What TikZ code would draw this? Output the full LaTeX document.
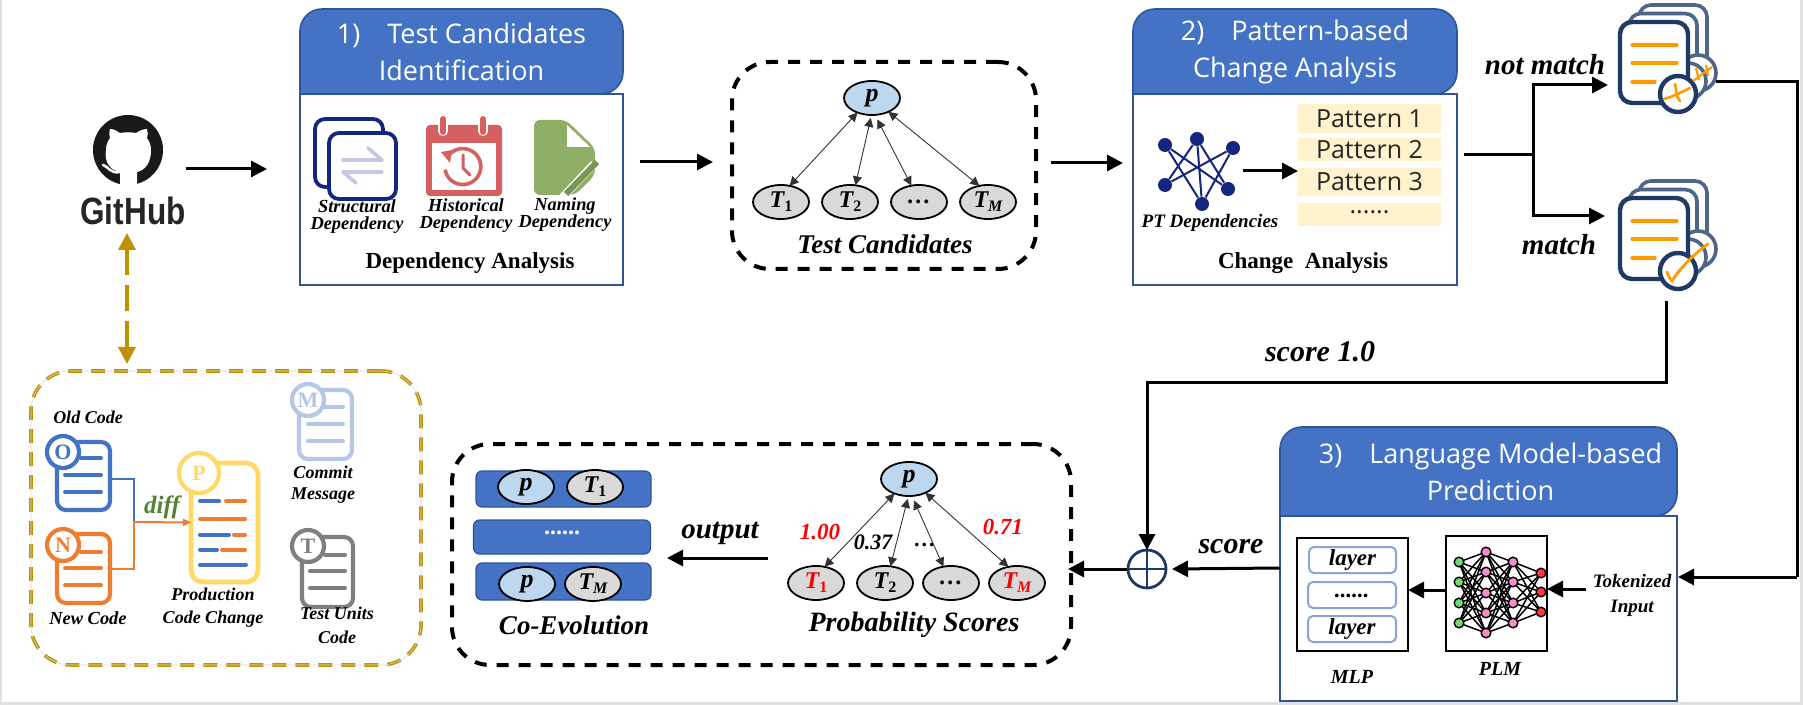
\documentclass[tikz,border=0pt]{standalone}
\usepackage{fontspec}
\setmainfont{Liberation Serif}
\newfontfamily\ttl{Open Sans}
\newfontfamily\ghf{Liberation Sans}
\usetikzlibrary{arrows.meta,shapes.geometric,fit,calc}
\definecolor{hblue}{HTML}{4472C4}
\definecolor{hedge}{HTML}{2F5597}
\definecolor{navy}{HTML}{1F3864}
\definecolor{backnavy}{HTML}{4F6587}
\definecolor{gold}{HTML}{BF9000}
\definecolor{dorange}{HTML}{ED7D31}
\definecolor{dyellow}{HTML}{FFD966}
\definecolor{dlight}{HTML}{B4C7E7}
\definecolor{dgrey}{HTML}{7F7F7F}
\definecolor{pbg}{HTML}{FFF2CC}
\definecolor{pnode}{HTML}{BDD7EE}
\definecolor{tnode}{HTML}{D9D9D9}
\definecolor{iconblue}{HTML}{14267E}
\definecolor{iconarrow}{HTML}{C3C8E0}
\definecolor{calred}{HTML}{D66060}
\definecolor{dgreen}{HTML}{8FAF66}
\definecolor{diffg}{HTML}{548235}
\definecolor{docor}{HTML}{FF9900}
\tikzset{
 sz/.style 2 args={minimum width=#1*0.5pt,minimum height=#2*0.5pt,inner sep=0pt,outer sep=0pt},
 arr/.style={line width=1.5pt,-{Triangle[length=8pt,width=8pt]}},
 plainline/.style={line width=1.5pt},
 thinarr/.style={line width=.45pt,black!80,{Triangle[length=4.5pt,width=4.5pt]}-{Triangle[length=4.5pt,width=4.5pt]}},
 graphn/.style={ellipse,draw=black,line width=.9pt,minimum width=28pt,minimum height=17pt,inner sep=0pt,outer sep=0pt},
 pn/.style={graphn,fill=pnode},
 tn/.style={graphn,fill=tnode},
 lab/.style={font=\fontsize{9.2pt}{8.8pt}\selectfont\bfseries\itshape,align=center,inner sep=0pt},
 biglab/.style={font=\fontsize{14.5pt}{15pt}\selectfont\bfseries\itshape,inner sep=0pt},
 grouplab/.style={font=\fontsize{13.5pt}{14pt}\selectfont\bfseries\itshape,inner sep=0pt},
 hdr/.style={font=\fontsize{13.5pt}{18.5pt}\selectfont\ttl,text=white,align=center,inner sep=0pt},
 patbox/.style={fill=pbg,font=\fontsize{12.5pt}{12.5pt}\selectfont\ttl,text=black!85},
 blackdash/.style={draw=black,line width=2pt,dash pattern=on 6pt off 5pt,rounded corners=19pt},
 golddash/.style={draw=gold,line width=1.8pt,dash pattern=on 7pt off 4.5pt,rounded corners=20pt},
 doc/.style={draw=#1,line width=2.1pt,rounded corners=4.5pt,fill=white},
 docc/.style={circle,draw=#1,line width=2.1pt,fill=white,text=#1,inner sep=0pt,font=\fontsize{11pt}{11pt}\selectfont\bfseries},
 bar/.style={line width=2pt,line cap=round},
 rowbar/.style={fill=hblue,draw=hedge,line width=.6pt,rounded corners=3pt},
 layerbox/.style={draw=#1,line width=1pt,rounded corners=2.5pt,fill=white},
 layertxt/.style={font=\fontsize{11.5pt}{11.5pt}\selectfont\bfseries\itshape},
 frontdoc/.style={draw=navy,line width=2.2pt,rounded corners=6pt,fill=white},
 backdoc/.style={draw=backnavy,line width=1.8pt,rounded corners=6pt,fill=white},
 nn/.style={circle,draw=black,line width=.7pt,minimum size=4.8pt,inner sep=0pt,fill=#1},
}
\newcommand{\tsym}[2]{\bfseries\itshape #1\raisebox{-.35ex}{\fontsize{8pt}{8pt}\selectfont\upshape #2}}
\newcommand{\stagebox}[7]{% name,x1,y1,ymid,x2,y2,title
 \draw[hedge,line width=1pt,fill=white] (#2,#4) rectangle (#5,#6);
 \path[fill=hblue,draw=hedge,line width=.8pt] (#2,#4) [rounded corners=11pt] -- (#2,#3) -- (#5,#3) -- (#5,#4) [sharp corners] -- cycle;
 \node[inner sep=0pt,outer sep=0pt,fit={(#2,#3)(#5,#6)}] (#1) {};
 \node[hdr] (#1-title) at ($(#2,#3)!.5!(#5,#4)$) {#7};
}
\newcommand{\srcdoc}[8]{% name,color,cx,cy,w,h,letter,circle at
 \node[doc=#2,sz={#5}{#6}] (#1) at (#3,#4) {};
 \node[docc=#2,minimum size=16pt] (#1-c) at (#8) {#7};
}
\newcommand{\frontstack}[1]{% vertical offset of the stack
 \begin{scope}[shift={(0,#1)}]
  \node[backdoc,sz={68}{81}] at (1673,45.5) {};
  \node[backdoc,sz={68}{81}] at (1663,54) {};
  \node[circle,draw=backnavy,line width=1.8pt,fill=white,minimum size=18pt,inner sep=0pt] at (1698,73) {};
  \node[circle,draw=backnavy,line width=1.8pt,fill=white,minimum size=18pt,inner sep=0pt] at (1688,81) {};
  \node[frontdoc,sz={68}{81}] at (1654,62.5) {};
  \draw[docor,bar,line width=1.6pt] (1632,45) -- (1677,45) (1632,63) -- (1677,63) (1632,82) -- (1655,82);
 \end{scope}
}
\begin{document}
\begin{tikzpicture}[x=.5pt,y=-.5pt]
\useasboundingbox (0,0) rectangle (1803,705);
\fill[black!12] (0,0) rectangle (1803,705);
\fill[white] (2,0) rectangle (1800,702);

% GitHub
\fill[black!90] (128,150) circle[radius=35];
\fill[white] (120,186) -- (120,172) .. controls (110,170) and (104,162) .. (106,150) .. controls (106,144) and (108,141) .. (110,138) .. controls (109,134) and (109,131) .. (110,129) .. controls (114,129) and (117,131) .. (120,133) .. controls (125,132) and (131,132) .. (136,133) .. controls (139,131) and (143,129) .. (147,129) .. controls (148,132) and (148,135) .. (147,138) .. controls (150,142) and (151,146) .. (151,150) .. controls (151,162) and (146,170) .. (137,172) -- (137,186) -- cycle;
\draw[white,line width=1.3pt,line cap=round] (103,165) .. controls (108,166) and (110,174) .. (120,172);
\node[inner sep=0pt,text=black!85] (gh) at (133,211) {\fontsize{19pt}{19pt}\selectfont\ghf\bfseries\scalebox{.83}[1]{GitHub}};

% Stage 1
\stagebox{bone}{300}{9}{94}{623}{285}{1)\hspace{1em}Test Candidates\\Identification}
\draw[iconblue,line width=1.9pt,rounded corners=5pt,fill=white] (315,119) rectangle (383,187);
\draw[iconblue,line width=1.9pt,rounded corners=5pt,fill=white] (329,133) rectangle (396,199);
\draw[iconarrow,line width=1.8pt,line cap=round,line join=round] (343,160) -- (382,160) -- (368,148) (382,172) -- (343,172) -- (356,183);
% calendar
\fill[calred,rounded corners=2pt] (426,125) rectangle (502,196);
\fill[white] (432,143) rectangle (496,190);
\draw[white,line width=5pt,line cap=round] (443,122) -- (443,131) (483,122) -- (483,131);
\draw[calred,line width=3pt,line cap=round] (443,119) -- (443,132) (483,119) -- (483,132);
\draw[calred,line width=1.8pt] (449,155) arc[start angle=-140,end angle=170,radius=18];
\fill[calred] (441,152) -- (452,150) -- (450,163) -- cycle;
\draw[calred,line width=1.5pt,line cap=round] (463,155) -- (463,168) -- (470,175);
% naming icon
\fill[dgreen,rounded corners=3pt] (534,120) -- (566,120) -- (595,148) -- (595,175) -- (575,195) -- (534,195) -- cycle;
\fill[white] (567,125) -- (567,147) -- (590,147) -- cycle;
\draw[white,line width=4pt] (562,198) -- (594,164);
\draw[dgreen!85!black,line width=3pt] (566,194) -- (597,162);
\node[lab] (l1) at (357,216.5) {Structural\\Dependency};
\node[lab] (l2) at (466,215.5) {Historical\\Dependency};
\node[lab] (l3) at (565,214.5) {Naming\\Dependency};
\node[inner sep=0pt,font=\fontsize{11.5pt}{12pt}\selectfont\bfseries] (l4) at (470,263) {Dependency Analysis};

% Test candidates
\node[blackdash,sz={304}{207}] (cand) at (884,165.5) {};
\node[pn] (p) at (872,98) {\fontsize{13pt}{13pt}\selectfont\bfseries\itshape p};
\node[tn] (t1) at (781,202) {\fontsize{12pt}{12pt}\selectfont\tsym{T}{1}};
\node[tn] (t2) at (850,202) {\fontsize{12pt}{12pt}\selectfont\tsym{T}{2}};
\node[tn] (t3) at (919,202) {\fontsize{12pt}{12pt}\selectfont\bfseries\itshape …};
\node[tn] (t4) at (988,202) {\fontsize{12pt}{12pt}\selectfont\tsym{T}{\itshape M}};
\draw[thinarr] (p.-135) -- (t1.62);
\draw[thinarr,shorten <=1.5pt] (p.-92) -- (t2.72);
\draw[thinarr,shorten <=2.5pt] (p.-80) -- (t3.115);
\draw[thinarr] (p.-40) -- (t4.118);
\node[grouplab] (candl) at (885,244) {Test Candidates};

% Stage 2
\stagebox{btwo}{1133}{9}{94}{1457}{285}{2)\hspace{1em}Pattern-based\\Change Analysis}
\foreach \n/\x/\y in {a/1165/145,b/1197/139,c/1233/148,d/1165/185,e/1228/189,f/1202/204}
 \node[circle,fill=iconblue,minimum size=7pt,inner sep=0pt] (pt\n) at (\x,\y) {};
\draw[iconblue,line width=1pt] (pta)--(pte) (pta)--(ptf) (ptb)--(ptd) (ptb)--(ptf) (ptb)--(pte) (ptc)--(ptd) (ptc)--(ptf);
\node[lab,font=\fontsize{9.5pt}{10pt}\selectfont\bfseries\itshape] (ptl) at (1210,223) {PT Dependencies};
\node[patbox,sz={143}{29}] (pat1) at (1369.5,118.5) {Pattern 1};
\node[patbox,sz={143}{23}] (pat2) at (1369.5,150) {Pattern 2};
\node[patbox,sz={143}{28}] (pat3) at (1369.5,182) {Pattern 3};
\node[patbox,sz={143}{23}] (pat4) at (1369.5,214.5) {\raisebox{2pt}{......}};
\coordinate (ptout) at (1243,171);
\draw[arr] (ptout) -- (ptout-|pat3.west);
\node[inner sep=0pt,font=\fontsize{11.5pt}{12pt}\selectfont\bfseries] (l5) at (1303,263) {Change\ \ Analysis};

% right docs
\frontstack{0}
\node[circle,draw=navy,line width=2.2pt,fill=white,minimum size=18pt,inner sep=0pt] (xmark) at (1678,94) {};
\draw[docor,line width=1.3pt,line cap=round] (1664,99) .. controls (1672,97) and (1682,92) .. (1690,88) (1675,84) .. controls (1677,90) and (1675,96) .. (1680,101);
\draw[docor,line width=1.1pt] (1693,81) -- (1712,67) (1696,68) -- (1699,80) (1706,65) -- (1708,76);
\frontstack{176}
\node[circle,draw=navy,line width=2.2pt,fill=white,minimum size=18pt,inner sep=0pt] (cmark) at (1678,271) {};
\draw[docor,line width=1.4pt,line cap=round] (1667,272) .. controls (1669,277) and (1670,279) .. (1672,281) .. controls (1680,268) and (1694,254) .. (1708,244);
\coordinate (nmout) at (1716,82);
\coordinate (mout) at (1666,301);
\node[biglab] (nml) at (1545,65) {not match};
\node[biglab] (ml) at (1559,245) {match};

% branch
\coordinate (bstart) at (1464,155);
\coordinate (bmid) at (1533,155);
\coordinate (tipa) at (1608,85);
\coordinate (tipb) at (1605,216);
\draw[plainline] (bstart) -- (bmid);
\draw[arr] (bmid) |- (tipa);
\draw[arr] (bmid) |- (tipb);

% Stage 3
\stagebox{bthree}{1280}{427}{516}{1677}{701}{\hspace*{12pt}3)\hspace{1em}Language Model-based\\\hspace*{12pt}Prediction}
\node[draw=black,line width=.9pt,sz={111}{113},fill=white] (mlp) at (1352.5,594.5) {};
\node[layerbox=dlight!60!hblue,sz={87}{26},layertxt] (la1) at (1352.5,560) {layer};
\node[layerbox=dlight!60!hblue,sz={88}{26},layertxt] (la2) at (1352,595) {\raisebox{-3pt}{......}};
\node[layerbox=dlight!60!hblue,sz={88}{26},layertxt] (la3) at (1352,629) {layer};
\node[lab,font=\fontsize{10pt}{10pt}\selectfont\bfseries\itshape] (mlpl) at (1352,677) {MLP};
\node[draw=black,line width=.9pt,sz={101}{115},fill=white] (plm) at (1496.5,593.5) {};
\foreach \i/\y in {1/562,2/582,3/603,4/623} \coordinate (a\i) at (1459,\y);
\foreach \i/\y in {1/552,2/572,3/593,4/613,5/633} \coordinate (b\i) at (1486,\y);
\foreach \i/\y in {1/562,2/582,3/603,4/623} \coordinate (c\i) at (1513,\y);
\foreach \i/\y in {1/573,2/592,3/612} \coordinate (e\i) at (1541,\y);
\foreach \i in {1,2,3,4} \foreach \j in {1,2,3,4,5} {\draw[line width=.75pt] (a\i) -- (b\j); \draw[line width=.75pt] (b\j) -- (c\i);}
\foreach \i in {1,2,3,4} \foreach \j in {1,2,3} \draw[line width=.75pt] (c\i) -- (e\j);
\foreach \i in {1,2,3,4} {\node[nn=green!60!gray!70] at (a\i) {}; \node[nn=magenta!45] at (c\i) {};}
\foreach \i in {1,2,3,4,5} \node[nn=magenta!45] at (b\i) {};
\foreach \i in {1,2,3} \node[nn=red!70!pink] at (e\i) {};
\node[lab,font=\fontsize{10pt}{10pt}\selectfont\bfseries\itshape] (plml) at (1500,669) {PLM};
\node[lab,font=\fontsize{9.5pt}{12.5pt}\selectfont\bfseries\itshape] (tok) at (1632,595.5) {Tokenized\\Input};
\coordinate (tokout) at (1586,589);
\draw[arr] (tokout) -- (tokout-|plm.east);
\draw[arr] (plm.west|-0,590) -- (mlp.east|-0,590);

% feedback
\coordinate (rt) at (1797,82);
\coordinate (rb) at (1797,577);
\coordinate (bthreein) at (1678,577);
\draw[plainline] (nmout) -- (rt) -- (rb);
\draw[arr] (rb) -- (bthreein);
\coordinate (scorebend) at (1147,383);
\node[circle,draw=navy,line width=1.4pt,minimum size=19pt,inner sep=0pt,outer sep=0pt] (oplus) at (1147,569) {};
\draw[navy,line width=1.2pt] (oplus.north) -- (oplus.south) (oplus.west) -- (oplus.east);
\draw[arr] (mout) |- (scorebend) -- (oplus.north);
\node[biglab,font=\fontsize{15pt}{15pt}\selectfont\bfseries\itshape] (s1) at (1320,352) {score 1.0};
\node[biglab,font=\fontsize{15pt}{15pt}\selectfont\bfseries\itshape] (s2) at (1231,547) {score};
\coordinate (bthreeout) at (1280,568);
\draw[arr] (bthreeout) -- ($(oplus.east)+(6,0)$);

% Co-evolution box
\node[blackdash,sz={619}{221}] (res) at (761.5,554.5) {};
\draw[arr,shorten >=-1.5pt,shorten <=.5pt] (oplus.west) -- (oplus.west-|res.east);
\node[rowbar,sz={175}{36}] (r1) at (563.5,489) {};
\node[rowbar,sz={177}{34},text=white,font=\fontsize{12pt}{12pt}\selectfont\bfseries] (r2) at (562,537) {\raisebox{4pt}{......}};
\node[rowbar,sz={175}{37}] (r3) at (563.5,581.5) {};
\node[pn] (rp1) at (526,487) {\fontsize{13pt}{13pt}\selectfont\bfseries\itshape p};
\node[tn] (rt1) at (595,487) {\fontsize{12pt}{12pt}\selectfont\tsym{T}{1}};
\node[pn] (rp2) at (527,584) {\fontsize{13pt}{13pt}\selectfont\bfseries\itshape p};
\node[tn] (rt2) at (593,584) {\fontsize{12pt}{12pt}\selectfont\tsym{T}{\itshape M}};
\node[grouplab] (cel) at (574,625) {Co-Evolution};
\node[biglab] (outl) at (720,533) {output};
\coordinate (outa) at (768,558);
\coordinate (outb) at (667,558);
\draw[arr] (outa) -- (outb);
\node[pn] (q) at (909,479) {\fontsize{13pt}{13pt}\selectfont\bfseries\itshape p};
\node[tn] (q1) at (816,583) {\fontsize{12pt}{12pt}\selectfont\color{red}\tsym{T}{1}};
\node[tn] (q2) at (885,583) {\fontsize{12pt}{12pt}\selectfont\tsym{T}{2}};
\node[tn] (q3) at (951,583) {\fontsize{12pt}{12pt}\selectfont\bfseries\itshape …};
\node[tn] (q4) at (1017,583) {\fontsize{12pt}{12pt}\selectfont\color{red}\tsym{T}{\itshape M}};
\draw[thinarr] (q.-135) -- (q1.62);
\draw[thinarr,shorten <=1.5pt] (q.-92) -- (q2.72);
\draw[thinarr,shorten <=2.5pt] (q.-80) -- (q3.115);
\draw[thinarr] (q.-40) -- (q4.118);
\node[lab,font=\fontsize{11.5pt}{12pt}\selectfont\bfseries\itshape,text=red] (v1) at (820,532) {1.00};
\node[lab,font=\fontsize{11pt}{11pt}\selectfont\bfseries\itshape] (v2) at (873,542) {0.37};
\node[lab,font=\fontsize{11pt}{11pt}\selectfont\bfseries\itshape] (v3) at (925,545) {…};
\node[lab,font=\fontsize{11.5pt}{12pt}\selectfont\bfseries\itshape,text=red] (v4) at (1003,527) {0.71};
\node[grouplab,font=\fontsize{14pt}{14pt}\selectfont\bfseries\itshape] (pbl) at (914,625) {Probability Scores};

% Source box
\node[golddash,sz={390}{294}] (src) at (226,518) {};
\draw[black!15,line width=.3pt,rounded corners=20pt] (src.south west) rectangle (src.north east);
\node[inner sep=0pt] (srclab) at (88,417) {\fontsize{9pt}{9pt}\selectfont\bfseries\itshape Old Code};
\srcdoc{od}{hblue}{83.5}{476}{53}{68}{O}{63,452}
\draw[hblue,bar] (81,458) -- (101,458) (65,475) -- (101,475) (65,492) -- (101,492);
\srcdoc{nd}{dorange}{83.5}{568.5}{53}{69}{N}{63,545}
\draw[dorange,bar] (81,552) -- (101,552) (65,568) -- (101,568) (65,585) -- (101,585);
\node[doc=dyellow,sz={67}{119},line width=2.4pt,rounded corners=6pt] (pd) at (224.5,522.5) {};
\node[docc=dyellow,minimum size=20pt] (pd-c) at (199,473) {P};
\draw[hblue,bar] (200,501) -- (219,501) (200,534.5) -- (229,534.5) (200,549.5) -- (217,549.5) (200,565) -- (246,565);
\draw[dorange,bar] (226,501) -- (245,501) (200,519) -- (245,519) (234,534.5) -- (245,534.5) (222,549.5) -- (245,549.5);
\srcdoc{md}{dlight}{325.5}{424.5}{53}{69}{M}{308,400}
\draw[dlight,bar] (324,407) -- (343,407) (308,424) -- (343,424) (308,441) -- (343,441);
\srcdoc{td}{dgrey}{327.5}{572}{51}{70}{T}{308,546}
\draw[dgrey,bar] (325,555) -- (345,555) (310,571) -- (345,571) (310,588) -- (345,588);
\coordinate (dj) at (133.5,522);
\draw[hblue,line width=1pt] ([yshift=-1.5pt]od.east) -| (dj);
\draw[dorange,line width=1pt] (nd.east) -| (dj);
\draw[dorange,line width=1pt,-{Triangle[length=4pt,width=3.5pt]}] (dj) -- (pd.west);
\node[inner sep=0pt,text=diffg,font=\fontsize{12.5pt}{13pt}\selectfont\bfseries\itshape] (diffl) at (162,507) {diff};
\node[lab] (oldn) at (88,618) {New Code};
\node[lab,font=\fontsize{9pt}{11.5pt}\selectfont\bfseries\itshape] (prodn) at (213,608) {Production\\Code Change};
\node[lab,font=\fontsize{9pt}{10.5pt}\selectfont\bfseries\itshape] (commn) at (323,485) {Commit\\Message};
\node[lab,font=\fontsize{9pt}{12pt}\selectfont\bfseries\itshape] (testn) at (337,625) {Test Units\\Code};

% gold connector
\coordinate (gita) at (127,233);
\coordinate (gitb) at (127,364);
\draw[gold,line width=1.8pt,dash pattern=on 13pt off 5pt,{Triangle[length=8.5pt,width=8.5pt]}-{Triangle[length=8.5pt,width=8.5pt]}] (gita) -- (gitb);

% main arrows
\coordinate (ghout) at (186,169);
\coordinate (bonein) at (267,169);
\draw[arr] (ghout) -- (bonein);
\draw[arr,shorten <=8.5pt,shorten >=9.5pt] ([yshift=-7.5pt]bone.east) -- ([yshift=1.75pt]cand.west);
\draw[arr,shorten <=7.5pt,shorten >=5pt] ([yshift=1.25pt]cand.east) -- ([yshift=-8pt]btwo.west);
\end{tikzpicture}
\end{document}
